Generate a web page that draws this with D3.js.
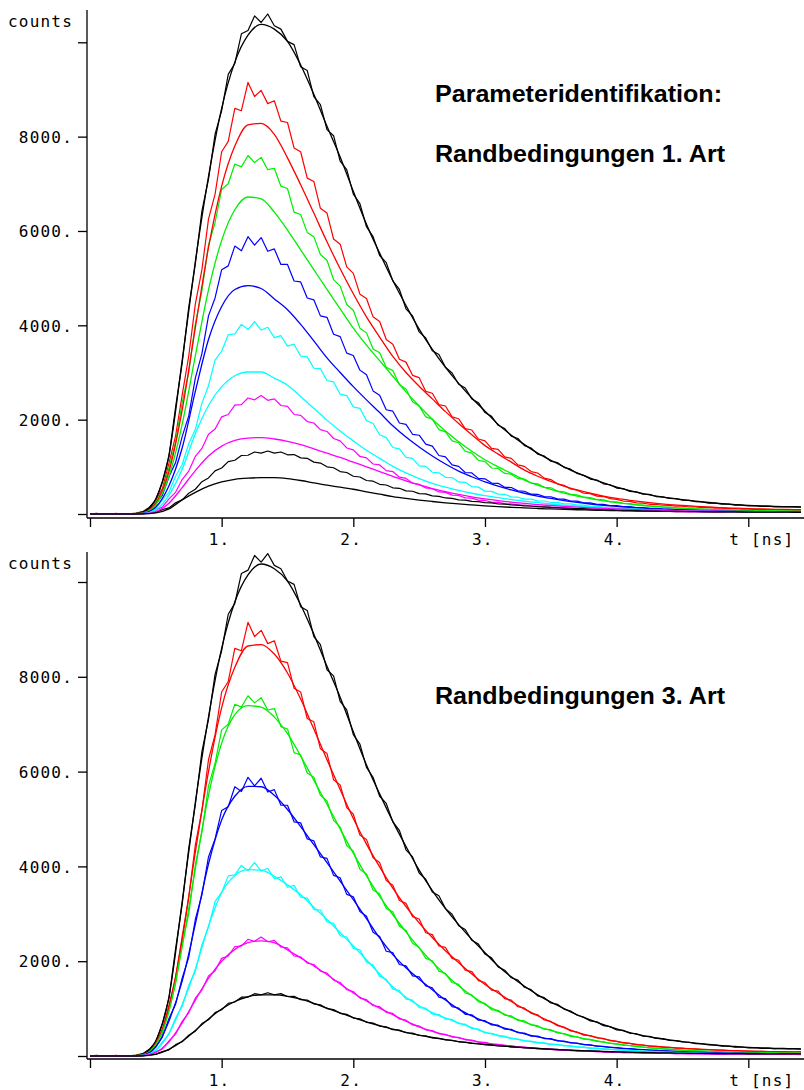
<!DOCTYPE html>
<html><head><meta charset="utf-8">
<script src="https://cdn.jsdelivr.net/npm/d3@7/dist/d3.min.js"></script>
<style>
body{margin:0;background:#fff}
.mono{font-family:"DejaVu Sans Mono",monospace;font-size:16px;letter-spacing:1.2px;fill:#000}
.title{font-family:"Liberation Sans",Arial,sans-serif;font-weight:bold;font-size:23px;fill:#000}
</style></head>
<body><svg id="chart" width="804" height="1090"></svg>
<script>
// ---- sampling (ns) ----
const measStep = 0.05;   // measured curves: t = 0, 0.05, ... 5.40
const fitStep = 0.1;     // fitted curves:   t = 0, 0.1, ... 5.4

// ---- measured (noisy) curves, counts ----
const measBlackHigh = [
 0,15,-10,10,-5,10,5,20,50,140,
 300,690,1220,2260,3200,4380,5300,6420,7100,8050,
 8550,9320,9550,10180,10250,10560,10420,10600,10350,10280,
 10020,9950,9480,9400,8850,8680,8150,8020,7480,7300,
 6780,6580,6090,5880,5480,5330,4940,4760,4350,4200,
 3860,3730,3460,3380,3110,2990,2750,2670,2440,2360,
 2150,2070,1880,1810,1650,1600,1450,1400,1270,1230,
 1120,1090,990,950,860,820,740,720,640,620,
 550,540,480,470,420,415,370,365,330,325,
 295,290,260,255,232,230,208,210,188,190,
 170,175,160,165,152,158,148,152,146];
const measRed = [
 0,-10,10,0,12,-8,8,15,40,100,
 290,540,1080,1650,2520,3350,4450,5180,6250,6780,
 7680,7900,8600,8550,9150,8850,8980,8700,8760,8330,
 8300,7760,7680,7120,7050,6480,6380,5830,5720,5240,
 5100,4660,4570,4180,4080,3700,3600,3280,3220,2940,
 2890,2600,2560,2320,2290,2060,2020,1810,1780,1590,
 1550,1390,1370,1210,1180,1040,1010,900,870,760,
 730,640,610,530,505,440,430,380,370,325,
 310,275,268,236,232,206,205,186,184,166,
 165,148,149,135,136,123,124,112,113,104,
 105,97,98,92,94,88,90,84,86];
const measGreen = [
 0,10,-8,6,-10,8,-5,12,30,85,
 255,480,980,1520,2360,3000,4030,4730,5700,6180,
 6880,7000,7420,7360,7600,7450,7560,7300,7330,6950,
 6900,6400,6350,5970,5880,5500,5380,4970,4830,4440,
 4320,3940,3840,3500,3420,3110,3040,2740,2650,2380,
 2290,2060,2010,1790,1740,1550,1510,1330,1290,1140,
 1110,975,965,860,845,750,740,655,640,565,
 555,488,472,415,405,356,350,308,298,264,
 256,226,222,196,190,170,166,148,144,130,
 126,114,111,101,99,90,89,81,81,74,
 75,69,71,65,67,62,64,59,62];
const measBlue = [
 0,-8,10,-6,8,-4,6,0,25,65,
 210,400,790,1090,1640,2080,2880,3400,4200,4580,
 5180,5260,5680,5580,5880,5700,5860,5570,5620,5290,
 5290,4940,4920,4580,4540,4200,4170,3810,3760,3410,
 3360,3050,2950,2610,2520,2210,2180,1930,1900,1690,
 1670,1480,1440,1240,1210,1040,1010,880,870,755,
 745,655,650,566,562,490,482,420,418,368,
 366,320,316,276,274,238,236,206,204,180,
 178,157,157,138,137,121,121,107,106,94,
 94,83,84,74,76,67,68,61,62,56,
 58,52,54,49,50,46,49,45,46];
const measCyan = [
 0,6,-6,8,-4,6,-3,8,10,55,
 110,300,460,800,1050,1490,1790,2350,2720,3260,
 3450,3800,3820,4020,3910,4080,3900,3960,3740,3780,
 3560,3600,3350,3330,3090,3080,2830,2800,2540,2510,
 2270,2240,1980,1920,1680,1620,1410,1380,1200,1180,
 1020,1010,885,875,778,772,680,672,582,570,
 485,480,422,418,364,356,316,314,277,276,
 244,245,215,214,188,187,164,163,144,143,
 126,126,111,112,99,99,88,89,79,80,
 71,72,64,65,58,59,53,55,49,51,
 45,47,42,45,40,43,38,42,37];
const measMagenta = [
 0,-5,6,-4,5,-6,4,-2,12,25,
 85,150,320,460,730,910,1220,1390,1690,1800,
 2060,2110,2310,2320,2460,2420,2510,2410,2440,2300,
 2280,2110,2090,1960,1930,1790,1750,1600,1550,1400,
 1360,1220,1190,1060,1040,920,900,780,755,655,
 630,552,535,468,458,400,392,342,336,293,
 286,252,248,219,216,190,188,166,164,146,
 144,129,128,114,114,101,102,91,91,81,
 82,73,74,66,67,60,62,55,56,51,
 52,47,48,43,45,41,43,39,41,37,
 39,35,37,34,36,33,35,32,34];
const measBlackLow = [
 0,5,-5,6,-4,5,-3,4,2,22,
 35,92,130,240,300,440,525,685,765,915,
 975,1110,1140,1240,1245,1315,1290,1335,1290,1315,
 1255,1260,1190,1180,1100,1080,1000,980,900,880,
 800,785,710,695,630,615,555,545,490,482,
 432,426,383,375,340,332,300,294,268,262,
 240,234,215,210,193,188,173,170,156,153,
 140,138,126,125,114,113,103,103,93,94,
 85,85,78,79,72,73,67,68,62,64,
 58,60,55,57,52,55,50,53,48,51,
 46,49,45,48,44,47,43,46,42];

// ---- fits, "Randbedingungen 1. Art" (top panel) ----
const fit1Black = [0,0,0,0,40,320,1250,3250,5350,7150,8600,9580,10150,10380,
 10280,10020,9520,8900,8220,7570,6840,6140,5530,4950,4420,3920,3490,3110,2770,2460,2180,1900,1670,1470,
 1290,1140,1000,870,760,660,570,495,432,380,340,305,272,244,220,200,182,170,162,156,152];
const fit1Red = [0,0,0,0,25,230,900,2200,3950,5650,6950,7800,8250,8280,
 8050,7550,6980,6380,5770,5200,4670,4180,3750,3340,3000,2710,2440,2170,1920,1680,1450,1270,1100,930,
 800,690,590,510,440,380,330,290,255,225,200,180,163,148,135,124,115,107,100,95,90];
const fit1Green = [0,0,0,0,20,200,800,1900,3350,4750,5800,6450,6720,6680,
 6400,6020,5600,5180,4760,4350,3940,3580,3250,2920,2590,2290,2010,1760,1530,1330,1150,1000,860,720,
 610,520,445,380,325,280,240,208,180,157,138,121,107,95,85,77,70,65,61,58,55];
const fit1Blue = [0,0,0,0,15,150,600,1400,2600,3700,4400,4760,4840,4780,
 4560,4330,4020,3670,3310,3000,2700,2420,2150,1870,1630,1420,1230,1060,910,790,680,590,510,440,
 380,330,285,245,212,184,160,140,123,108,96,85,76,68,62,57,53,50,47,45,43];
const fit1Cyan = [0,0,0,0,8,90,400,950,1700,2300,2700,2930,3010,3010,
 2880,2730,2490,2240,1990,1760,1550,1350,1180,1010,870,750,650,570,500,440,390,345,305,270,
 240,212,188,167,148,132,118,106,95,86,78,71,65,60,55,51,48,45,43,41,40];
const fit1Magenta = [0,0,0,0,5,50,230,560,920,1230,1440,1560,1610,1620,
 1590,1540,1470,1380,1290,1200,1100,1000,900,800,700,615,540,475,415,365,320,285,252,225,
 200,180,161,145,130,117,106,97,89,82,76,70,65,61,57,53,50,47,45,43,41];
const fit1BlackLow = [0,0,0,0,2,25,110,300,460,590,680,735,760,770,
 770,750,710,660,610,570,525,470,420,370,330,295,265,238,214,193,174,157,142,129,
 117,107,98,90,83,77,71,66,62,58,55,52,49,47,45,43,41,40,39,38,37];

// ---- fits, "Randbedingungen 3. Art" (bottom panel) ----
const fit3Black = fit1Black.slice();
const fit3Red = [0,0,0,0,30,270,1030,2450,4300,6000,7350,8200,8650,8680,
 8480,8080,7530,6900,6250,5620,5010,4470,3990,3540,3150,2810,2500,2220,1970,1730,1510,1330,1150,990,
 850,720,600,500,425,362,310,265,228,200,180,162,147,134,122,112,104,97,92,88,85];
const fit3Green = [0,0,0,0,25,240,940,2300,3950,5500,6600,7200,7390,7360,
 7150,6800,6330,5820,5310,4790,4280,3800,3370,2980,2620,2280,1980,1720,1480,1270,1090,940,820,715,
 620,540,465,400,343,295,253,218,188,163,142,124,110,98,88,80,73,68,64,61,59];
const fit3Blue = [0,0,0,0,20,190,740,1580,2780,4050,4980,5480,5690,5680,
 5500,5200,4840,4460,4080,3690,3300,2900,2490,2140,1860,1620,1400,1180,990,845,725,630,545,468,
 405,354,305,265,228,198,173,152,133,117,103,91,81,73,66,60,56,52,49,47,45];
const fit3Cyan = [0,0,0,0,12,120,480,1080,1830,2740,3450,3810,3930,3920,
 3790,3610,3400,3140,2880,2600,2320,2030,1730,1460,1240,1060,915,800,700,600,505,437,377,326,
 285,252,222,194,169,148,130,115,102,91,81,73,66,60,55,51,47,44,42,40,39];
const fit3Magenta = [0,0,0,0,8,75,300,700,1180,1640,2000,2250,2390,2430,
 2390,2240,2070,1900,1720,1520,1330,1160,1010,870,735,615,520,445,380,325,278,240,209,182,
 159,140,124,110,98,88,79,71,65,59,54,50,46,43,41,39,37,35,34,33,32];
const fit3BlackLow = [0,0,0,0,4,40,140,310,540,780,990,1150,1250,1290,
 1290,1260,1200,1110,1010,910,810,720,640,565,500,440,390,345,305,272,243,218,195,175,
 158,142,128,116,105,95,87,80,74,68,64,60,57,54,52,50,48,47,46,45,44];

const seriesColors = ["#000000","#ff0000","#00ee00","#0000ff","#00ffff","#ff00ff","#000000"];
const measured = [measBlackHigh, measRed, measGreen, measBlue, measCyan, measMagenta, measBlackLow];
const fits1 = [fit1Black, fit1Red, fit1Green, fit1Blue, fit1Cyan, fit1Magenta, fit1BlackLow];
const fits3 = [fit3Black, fit3Red, fit3Green, fit3Blue, fit3Cyan, fit3Magenta, fit3BlackLow];

const yTickValues = [0, 2000, 4000, 6000, 8000, 10000];
const yTickLabels = ["", "2000.", "4000.", "6000.", "8000.", ""];
const xTickValues = [0, 1, 2, 3, 4, 5];
const xTickLabels = ["", "1.", "2.", "3.", "4.", "t [ns]"];
const yLabel = "counts";

const panels = [
  {fits: fits1, zeroY: 514, topY: 42.3, axisY: 518, axisTop: 10,
   titles: [{text:"Parameteridentifikation:", y:102, w:287}, {text:"Randbedingungen 1. Art", y:162, w:290}]},
  {fits: fits3, zeroY: 1056, topY: 582, axisY: 1059, axisTop: 552,
   titles: [{text:"Randbedingungen 3. Art", y:704, w:290}]}
];

const svg = d3.select("#chart");
const W = 804;
const x = d3.scaleLinear().domain([0, 5]).range([90, 748.3]);
const axisX = 87;

panels.forEach(p => {
  const y = d3.scaleLinear().domain([0, 10000]).range([p.zeroY, p.topY]);
  const g = svg.append("g");

  // axis lines
  g.append("line").attr("x1", axisX).attr("x2", axisX).attr("y1", p.axisTop).attr("y2", p.axisY)
    .attr("stroke", "#000").attr("stroke-width", 1.3);
  g.append("line").attr("x1", axisX).attr("x2", W).attr("y1", p.axisY).attr("y2", p.axisY)
    .attr("stroke", "#000").attr("stroke-width", 1.3);

  // y axis ticks
  const ya = g.append("g").attr("transform", `translate(${axisX},0)`)
    .call(d3.axisLeft(y).tickValues(yTickValues).tickSize(9).tickSizeOuter(0).tickPadding(5)
      .tickFormat((d, i) => yTickLabels[i]));
  ya.select(".domain").remove();
  ya.selectAll(".tick line").attr("stroke", "#000").attr("stroke-width", 1.3);
  ya.selectAll(".tick text").attr("class", "mono").attr("font-size", null).attr("font-family", null)
    .attr("dy", "0.36em");

  // x axis ticks
  const xa = g.append("g").attr("transform", `translate(0,${p.axisY})`)
    .call(d3.axisBottom(x).tickValues(xTickValues).tickSize(9).tickSizeOuter(0).tickPadding(5)
      .tickFormat((d, i) => xTickLabels[i]));
  xa.select(".domain").remove();
  xa.attr("font-size", null).attr("font-family", null);
  xa.selectAll(".tick line").attr("stroke", "#000").attr("stroke-width", 1.3);
  xa.selectAll(".tick text").attr("class", "mono")
    .attr("text-anchor", "start")
    .attr("y", 26.5).attr("dy", null)
    .attr("x", (d, i) => i === xTickValues.length - 1 ? -19.5 : -13.5);

  // y label
  g.append("text").attr("class", "mono").attr("x", 8).attr("y", p.axisTop + 17).text(yLabel);

  // curves
  const lineMeas = d3.line().x((d, i) => x(i * measStep)).y(d => y(d)).curve(d3.curveLinear);
  const lineFit = d3.line().x((d, i) => x(i * fitStep)).y(d => y(d)).curve(d3.curveMonotoneX);
  measured.forEach((arr, k) => {
    g.append("path").attr("d", lineMeas(arr)).attr("fill", "none")
      .attr("stroke", seriesColors[k]).attr("stroke-width", 1.2).attr("stroke-linejoin", "round");
  });
  p.fits.forEach((arr, k) => {
    g.append("path").attr("d", lineFit(arr)).attr("fill", "none")
      .attr("stroke", seriesColors[k]).attr("stroke-width", 1.3);
  });

  // titles
  p.titles.forEach(t => {
    g.append("text").attr("class", "title").attr("x", 435).attr("y", t.y)
      .attr("textLength", t.w).attr("lengthAdjust", "spacingAndGlyphs").text(t.text);
  });
});
</script>
</body></html>
